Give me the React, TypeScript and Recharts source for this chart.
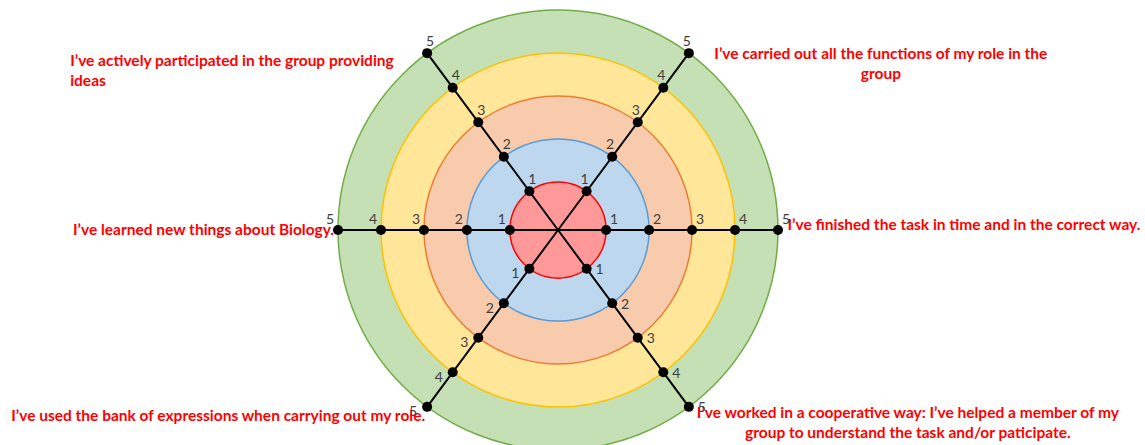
import React from 'react';
import { RadarChart, Radar, PolarAngleAxis, PolarRadiusAxis, Text } from 'recharts';

// self-assessment target: one spoke per statement, 1..5 scale
const statements = [
  'I’ve finished the task in time and in the correct way.',
  'I’ve carried out all the functions of my role in the group',
  'I’ve actively participated in the group providing ideas',
  'I’ve learned new things about Biology.',
  'I’ve used the bank of expressions when carrying out my role.',
  'I’ve worked in a cooperative way: I’ve helped a member of my group to understand the task and/or paticipate.',
];
const spokeAngles = [0, 53.5, 126.5, 180, 233.5, 306.5];
const levels = [1, 2, 3, 4, 5];

const ringFill = ['#FF9999', '#BDD7EE', '#F8CBAD', '#FFE699', '#C5E0B4'];
const ringStroke = ['#FF0000', '#5B9BD5', '#ED7D31', '#FFC000', '#70AD47'];

const data = statements.map((statement, i) => {
  const row: Record<string, any> = { statement, angle: spokeAngles[i] };
  levels.forEach((lv) => {
    row[`l${lv}`] = lv;
  });
  return row;
});

// where each statement sits relative to the end of its spoke
const statementLayout = [
  { dx: 9.5, dy: -10.8, anchor: 'start', width: undefined as number | undefined },
  { dx: 192, dy: -5.6, anchor: 'middle', width: 345 },
  { dx: -357, dy: 1.8, anchor: 'start', width: 335 },
  { dx: -4, dy: -6.4, anchor: 'end', width: undefined },
  { dx: -2, dy: 3.2, anchor: 'end', width: undefined },
  { dx: 219, dy: 0, anchor: 'middle', width: 440 },
];

// offset of the small level numbers next to each dot, per spoke
const numberOffsets = [
  [8, -12],
  [-2, -13],
  [3, -13],
  [-8, -12],
  [-14, 4],
  [13, 0],
];

const labelStyle = {
  fontFamily: 'Lato, sans-serif',
  fontSize: 15.5,
  fontWeight: 700,
};

const centerOf = (p: any) => {
  if (p.cx !== undefined) return { cx: p.cx, cy: p.cy };
  const a = (-p.angle * Math.PI) / 180;
  return { cx: p.x - p.radius * Math.cos(a), cy: p.y - p.radius * Math.sin(a) };
};

const ringShape = (idx: number) => (props: any) => {
  const p = props.points && props.points[0];
  if (!p) return null;
  const { cx, cy } = centerOf(p);
  return (
    <circle cx={cx} cy={cy} r={p.radius} fill={ringFill[idx]} stroke={ringStroke[idx]} strokeWidth={1.5} />
  );
};

const SpokeShape = (props: any) => {
  const pts = props.points || [];
  return (
    <g>
      {pts.map((p: any, i: number) => {
        const { cx, cy } = centerOf(p);
        return <line key={`s${i}`} x1={cx} y1={cy} x2={p.x} y2={p.y} stroke="#000" strokeWidth={2} />;
      })}
      {pts.map((p: any, i: number) => {
        const lay = statementLayout[i];
        return (
          <Text
            key={`t${i}`}
            x={p.x + lay.dx}
            y={p.y + lay.dy}
            width={lay.width}
            textAnchor={lay.anchor as any}
            verticalAnchor="start"
            lineHeight={20}
            fill="#FF0000"
            style={labelStyle}
          >
            {p.payload.statement}
          </Text>
        );
      })}
    </g>
  );
};

const levelDot = (level: number) => (props: any) => {
  const { cx, cy, index } = props;
  const off = numberOffsets[index] || [0, 0];
  return (
    <g key={`d${level}-${index}`}>
      <circle cx={cx} cy={cy} r={5} fill="#000" />
      <text
        x={cx + off[0]}
        y={cy + off[1]}
        textAnchor="middle"
        dominantBaseline="central"
        fontFamily="Lato, sans-serif"
        fontSize={14}
        fill="#404040"
      >
        {level}
      </text>
    </g>
  );
};

export default function App() {
  const ringsOuterFirst = [...levels].reverse();
  return (
    <div style={{ position: 'absolute', left: 0, top: 0, width: 1145, height: 445, background: '#fff' }}>
      <RadarChart
        width={1145}
        height={445}
        data={data}
        cx={558}
        cy={230}
        outerRadius={220}
        startAngle={0}
        endAngle={360}
        margin={{ top: 0, right: 0, bottom: 0, left: 0 }}
      >
        <PolarAngleAxis dataKey="angle" type="number" domain={[0, 360]} tick={false} axisLine={false} />
        <PolarRadiusAxis type="number" domain={[-0.12, 5]} tick={false} axisLine={false} />
        {ringsOuterFirst.map((lv) => (
          <Radar
            key={`ring${lv}`}
            dataKey={`l${lv}`}
            shape={ringShape(lv - 1)}
            dot={false}
            isAnimationActive={false}
          />
        ))}
        <Radar dataKey="l5" shape={SpokeShape} dot={false} isAnimationActive={false} />
        {levels.map((lv) => (
          <Radar
            key={`dots${lv}`}
            dataKey={`l${lv}`}
            fill="none"
            stroke="none"
            dot={levelDot(lv)}
            isAnimationActive={false}
          />
        ))}
      </RadarChart>
    </div>
  );
}
